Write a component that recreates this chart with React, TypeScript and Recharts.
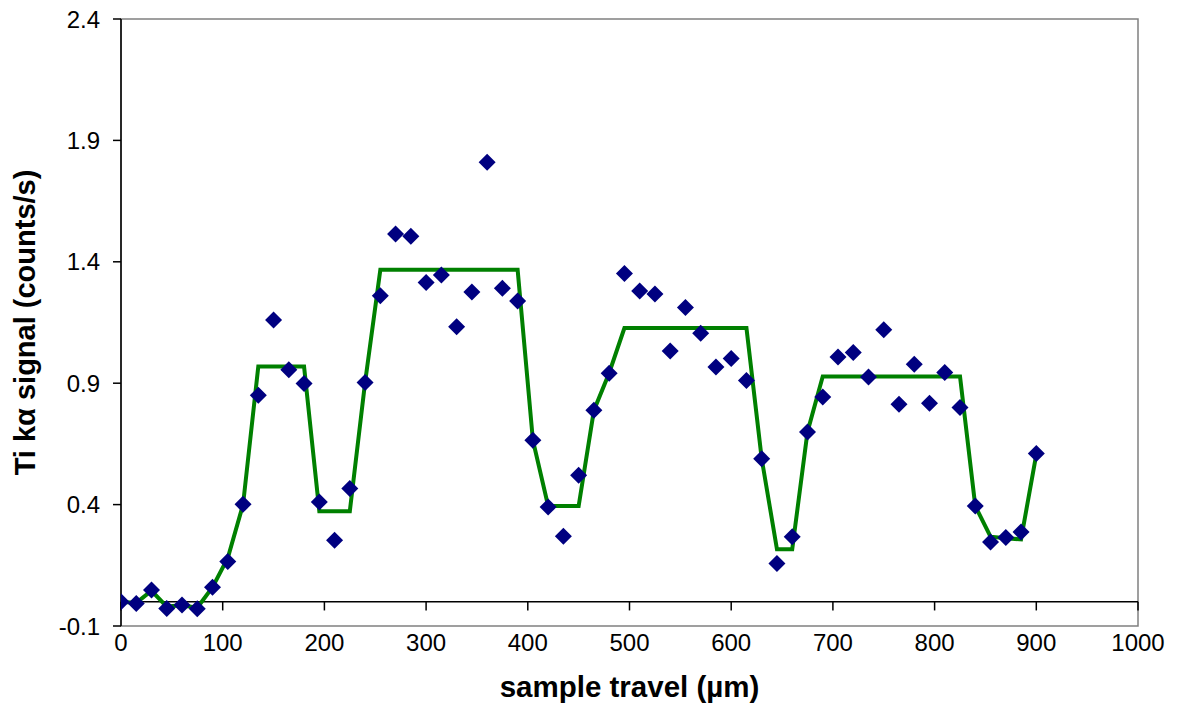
import React from 'react';
import { ComposedChart, Line, Scatter, XAxis, YAxis, ReferenceLine, ReferenceArea } from 'recharts';

const travel = [0, 15, 30, 45, 60, 75, 90, 105, 120, 135, 150, 165, 180, 195, 210, 225, 240, 255, 270, 285, 300, 315, 330, 345, 360, 375, 390, 405, 420, 435, 450, 465, 480, 495, 510, 525, 540, 555, 570, 585, 600, 615, 630, 645, 660, 675, 690, 705, 720, 735, 750, 765, 780, 795, 810, 825, 840, 855, 870, 885, 900];

const measured = [0.0, -0.007, 0.048, -0.028, -0.014, -0.029, 0.06, 0.166, 0.401, 0.85, 1.16, 0.955, 0.899, 0.411, 0.253, 0.466, 0.903, 1.26, 1.515, 1.505, 1.315, 1.346, 1.132, 1.276, 1.81, 1.291, 1.239, 0.665, 0.39, 0.27, 0.521, 0.789, 0.941, 1.352, 1.28, 1.267, 1.033, 1.212, 1.106, 0.967, 1.002, 0.911, 0.589, 0.157, 0.268, 0.699, 0.843, 1.008, 1.026, 0.926, 1.12, 0.813, 0.978, 0.817, 0.944, 0.8, 0.394, 0.246, 0.264, 0.287, 0.61];

const fitted = [0.0, -0.005, 0.045, -0.02, -0.015, -0.025, 0.06, 0.18, 0.4, 0.969, 0.969, 0.969, 0.969, 0.373, 0.373, 0.373, 0.903, 1.367, 1.367, 1.367, 1.367, 1.367, 1.367, 1.367, 1.367, 1.367, 1.367, 0.665, 0.394, 0.394, 0.394, 0.788, 0.942, 1.127, 1.127, 1.127, 1.127, 1.127, 1.127, 1.127, 1.127, 1.127, 0.589, 0.216, 0.216, 0.699, 0.928, 0.928, 0.928, 0.928, 0.928, 0.928, 0.928, 0.928, 0.928, 0.928, 0.394, 0.268, 0.261, 0.257, 0.607];

const xTicks = [0, 100, 200, 300, 400, 500, 600, 700, 800, 900, 1000];
const yTicks = [-0.1, 0.4, 0.9, 1.4, 1.9, 2.4];

const xLabel = 'sample travel (µm)';
const yLabel = 'Ti kα signal (counts/s)';

const measData = travel.map((x, i) => ({ x, y: measured[i] }));
const fitData = travel.map((x, i) => ({ x, y: fitted[i] }));

const FONT = 'Arial, "Liberation Sans", sans-serif';

const Diamond = (props: any) => {
  const { cx, cy } = props;
  if (cx == null || cy == null) return null;
  const r = 8.5;
  return (
    <polygon
      points={`${cx},${cy - r} ${cx + r},${cy} ${cx},${cy + r} ${cx - r},${cy}`}
      fill="#000080"
    />
  );
};

export default function App() {
  return (
    <div style={{ position: 'absolute', left: 0, top: 0, background: '#fff' }}>
      <ComposedChart
        width={1179}
        height={709}
        margin={{ top: 19, right: 41, bottom: 0, left: 0 }}
      >
        <ReferenceArea x1={0} x2={1000} y1={-0.1} y2={2.4} stroke="#808080" strokeWidth={1.5} fill="none" fillOpacity={0} />
        <XAxis
          dataKey="x"
          type="number"
          domain={[0, 1000]}
          ticks={xTicks}
          allowDataOverflow
          axisLine={false}
          tickLine={false}
          tickSize={6}
          tickMargin={2}
          height={83}
          tick={{ fontSize: 24, fill: '#000', fontFamily: FONT }}
          label={(p: any) => {
            const vb = p.viewBox;
            return (
              <text
                x={vb.x + vb.width / 2}
                y={vb.y + 71}
                textAnchor="middle"
                fontSize={29.5}
                fontWeight="bold"
                fontFamily={FONT}
                fill="#000"
              >
                {xLabel}
              </text>
            );
          }}
        />
        <YAxis
          dataKey="y"
          type="number"
          domain={[-0.1, 2.4]}
          ticks={yTicks}
          allowDataOverflow
          width={121}
          axisLine={{ stroke: '#000', strokeWidth: 1.5 }}
          tickLine={{ stroke: '#000', strokeWidth: 1.5 }}
          tickSize={8}
          tickMargin={13}
          tick={{ fontSize: 24, fill: '#000', fontFamily: FONT }}
          tickFormatter={(v: number) => v.toFixed(1)}
          label={(p: any) => {
            const vb = p.viewBox;
            const cx = vb.x + 35;
            const cy = vb.y + vb.height / 2;
            return (
              <text
                x={cx}
                y={cy}
                transform={`rotate(-90, ${cx}, ${cy})`}
                textAnchor="middle"
                fontSize={29}
                fontWeight="bold"
                fontFamily={FONT}
                fill="#000"
              >
                {yLabel}
              </text>
            );
          }}
        />
        <ReferenceLine y={0} stroke="#000" strokeWidth={1.5} />
        {xTicks.map((t) => (
          <ReferenceLine
            key={t}
            segment={[{ x: t, y: 0 }, { x: t, y: -0.036 }]}
            stroke="#000"
            strokeWidth={1.5}
          />
        ))}
        <Line
          data={fitData}
          dataKey="y"
          type="linear"
          stroke="#008000"
          strokeWidth={4}
          dot={false}
          activeDot={false}
          isAnimationActive={false}
        />
        <Scatter
          data={measData}
          dataKey="y"
          shape={Diamond}
          isAnimationActive={false}
        />
      </ComposedChart>
    </div>
  );
}
